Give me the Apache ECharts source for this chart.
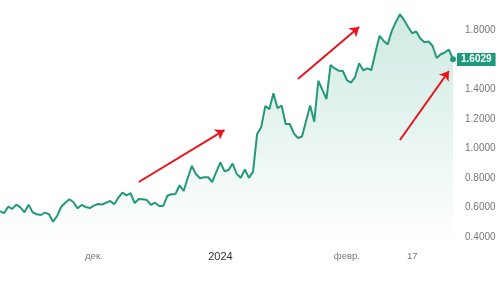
<!DOCTYPE html>
<html>
<head>
<meta charset="utf-8">
<script src="https://cdn.jsdelivr.net/npm/echarts@6/dist/echarts.min.js"></script>
<style>
html,body{margin:0;padding:0;background:#fff;}
#chart{width:501px;height:290px;}
</style>
</head>
<body>
<div id="chart"></div>
<script>
const dates = [
'2023-11-08','2023-11-09','2023-11-10','2023-11-11','2023-11-12','2023-11-13','2023-11-14','2023-11-15','2023-11-16','2023-11-17',
'2023-11-18','2023-11-19','2023-11-20','2023-11-21','2023-11-22','2023-11-23','2023-11-24','2023-11-25','2023-11-26','2023-11-27',
'2023-11-28','2023-11-29','2023-11-30',
'2023-12-01','2023-12-02','2023-12-03','2023-12-04','2023-12-05','2023-12-06','2023-12-07','2023-12-08','2023-12-09','2023-12-10',
'2023-12-11','2023-12-12','2023-12-13','2023-12-14','2023-12-15','2023-12-16','2023-12-17','2023-12-18','2023-12-19','2023-12-20',
'2023-12-21','2023-12-22','2023-12-23','2023-12-24','2023-12-25','2023-12-26','2023-12-27','2023-12-28','2023-12-29','2023-12-30','2023-12-31',
'2024-01-01','2024-01-02','2024-01-03','2024-01-04','2024-01-05','2024-01-06','2024-01-07','2024-01-08','2024-01-09','2024-01-10',
'2024-01-11','2024-01-12','2024-01-13','2024-01-14','2024-01-15','2024-01-16','2024-01-17','2024-01-18','2024-01-19','2024-01-20',
'2024-01-21','2024-01-22','2024-01-23','2024-01-24','2024-01-25','2024-01-26','2024-01-27','2024-01-28','2024-01-29','2024-01-30','2024-01-31',
'2024-02-01','2024-02-02','2024-02-03','2024-02-04','2024-02-05','2024-02-06','2024-02-07','2024-02-08','2024-02-09','2024-02-10',
'2024-02-11','2024-02-12','2024-02-13','2024-02-14','2024-02-15','2024-02-16','2024-02-17','2024-02-18','2024-02-19','2024-02-20',
'2024-02-21','2024-02-22','2024-02-23','2024-02-24','2024-02-25','2024-02-26','2024-02-27'
];
const values = [
0.577,0.562,0.606,0.591,0.620,0.602,0.568,0.620,0.568,0.555,
0.550,0.566,0.555,0.505,0.543,0.606,0.633,0.656,0.636,0.595,
0.618,0.604,0.597,0.613,0.624,0.621,0.633,0.645,0.622,0.667,
0.701,0.683,0.697,0.631,0.658,0.656,0.651,0.618,0.633,0.611,
0.611,0.680,0.690,0.692,0.751,0.712,0.800,0.882,0.827,0.798,
0.805,0.805,0.773,0.841,0.905,0.846,0.854,0.897,0.827,0.802,
0.857,0.801,0.843,1.097,1.143,1.286,1.264,1.372,1.272,1.290,
1.165,1.165,1.102,1.070,1.080,1.185,1.290,1.180,1.457,1.395,
1.334,1.564,1.540,1.525,1.523,1.462,1.445,1.482,1.575,1.528,
1.541,1.530,1.648,1.761,1.726,1.703,1.793,1.855,1.906,1.868,
1.820,1.778,1.790,1.743,1.718,1.722,1.692,1.611,1.636,1.648,
1.668,1.6029
];
const tickDates = ['2023-12-01','2024-01-01','2024-02-01','2024-02-17'];
const tickTexts = ['дек.','2024','февр.','17'];
// annotation arrows: start [date, value] and end [date, value]
const arrowStarts = [['2023-12-12',0.773],['2024-01-20',1.469],['2024-02-14',1.057]];
const arrowEnds = [['2024-01-02',1.124],['2024-02-04',1.820],['2024-02-26',1.523]];

const lineColor = '#24997a';
const lastIndex = values.length - 1;
const lastValue = values[lastIndex];

const markData = arrowStarts.map((s, k) => [
  {coord: s, symbol: 'none'},
  {coord: arrowEnds[k], symbol: 'arrow', symbolSize: 9}
]);
markData.push({
  yAxis: lastValue,
  symbol: 'none',
  lineStyle: {color: 'rgba(0,0,0,0)', width: 1, opacity: 1},
  label: {
    show: true, position: 'end', distance: 4,
    formatter: lastValue.toFixed(4),
    color: '#ffffff', fontWeight: 'bold', fontSize: 10,
    fontFamily: 'Liberation Sans, Arial, sans-serif',
    backgroundColor: '#1f9a78', padding: [1, 4, 1, 4], lineHeight: 11,
    opacity: 1
  }
});

const chart = echarts.init(document.getElementById('chart'), null, {renderer: 'canvas'});
chart.setOption({
  animation: false,
  backgroundColor: '#ffffff',
  grid: {left: 0, right: 48, top: 7.8, bottom: 45.4, containLabel: false},
  xAxis: {
    type: 'category',
    data: dates,
    boundaryGap: false,
    axisLine: {show: false},
    axisTick: {show: false},
    splitLine: {show: false},
    axisLabel: {
      margin: 7,
      interval: (idx, val) => tickDates.indexOf(val) >= 0,
      formatter: (val) => {
        const k = tickDates.indexOf(val);
        if (k < 0) return '';
        return k === 1 ? '{b|' + tickTexts[k] + '}' : tickTexts[k];
      },
      color: '#777',
      fontSize: 9.5,
      fontFamily: 'Liberation Sans, Arial, sans-serif',
      rich: {b: {color: '#333', fontSize: 11, fontFamily: 'Liberation Sans, Arial, sans-serif'}}
    }
  },
  yAxis: {
    type: 'value',
    position: 'right',
    min: 0.35,
    max: 1.95,
    interval: 0.05,
    axisLine: {show: false},
    axisTick: {show: false},
    splitLine: {show: false},
    axisLabel: {
      margin: 12,
      color: '#777',
      fontSize: 10,
      fontFamily: 'Liberation Sans, Arial, sans-serif',
      formatter: (v) => {
        const c = Math.round(v * 100);
        return (c % 20 === 0 && c >= 40 && c <= 180) ? (c / 100).toFixed(4) : '';
      }
    }
  },
  series: [{
    type: 'line',
    data: values,
    clip: false,
    symbol: 'circle',
    showSymbol: true,
    showAllSymbol: true,
    symbolSize: (v, p) => (p.dataIndex === lastIndex ? 6 : 0),
    smooth: false,
    lineStyle: {color: lineColor, width: 2},
    itemStyle: {color: lineColor, borderWidth: 0},
    areaStyle: {
      origin: 'start',
      color: new echarts.graphic.LinearGradient(0, 0, 0, 1, [
        {offset: 0, color: 'rgba(38,160,125,0.32)'},
        {offset: 1, color: 'rgba(38,160,125,0.0)'}
      ])
    },
    markLine: {
      silent: true,
      symbol: ['none', 'none'],
      animation: false,
      label: {show: false},
      lineStyle: {color: '#e8141c', width: 2, type: 'solid'},
      data: markData
    }
  }]
});
</script>
</body>
</html>
